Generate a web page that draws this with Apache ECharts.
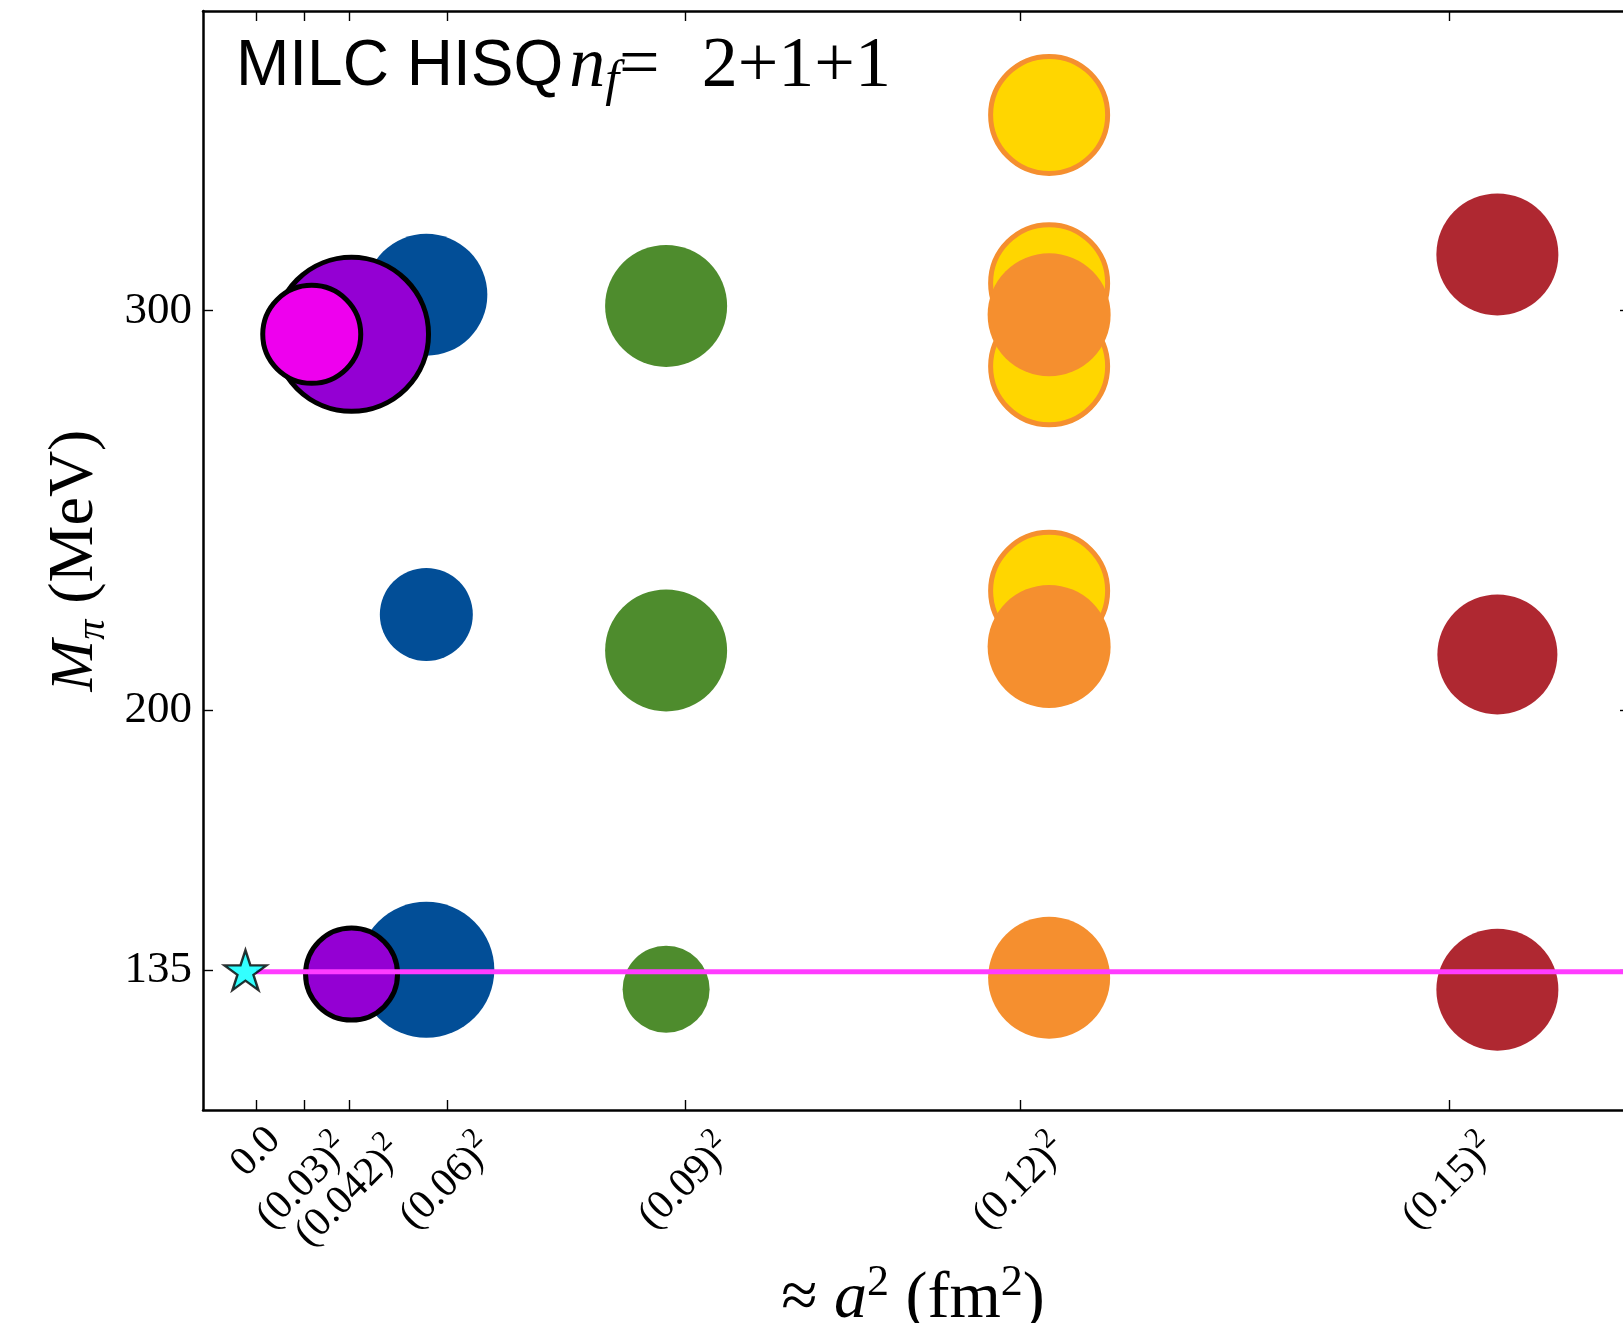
<!DOCTYPE html>
<html>
<head>
<meta charset="utf-8">
<script src="https://cdn.jsdelivr.net/npm/echarts@6/dist/echarts.min.js"></script>
<style>
  html, body { margin: 0; padding: 0; background: #ffffff; }
  #chart { width: 1623px; height: 1323px; }
</style>
</head>
<body>
<div id="chart"></div>
<script>
// ---- axis ticks ----
const tickA2 = [0, 0.0009, 0.001764, 0.0036, 0.0081, 0.0144, 0.0225];
const tickA2Labels = ['0.0', '(0.03)', '(0.042)', '(0.06)', '(0.09)', '(0.12)', '(0.15)'];
const tickMpi = [135, 200, 300];

// ---- ensembles: [a^2 (fm^2), M_pi (MeV), marker diameter] ----
const ens015 = [[0.0234, 314.1, 122], [0.0234, 214.0, 120], [0.0234, 130.1, 122]];
const ens012Heavy = [[0.01495, 349.0, 122], [0.01495, 306.9, 122], [0.01495, 286.1, 122], [0.01495, 229.9, 122]];
const ens012 = [[0.01495, 299.0, 123], [0.01495, 216.0, 123], [0.01495, 133.1, 122]];
const ens009 = [[0.00773, 301.2, 122], [0.00773, 215.0, 122], [0.00773, 130.2, 87]];
const ens006 = [[0.00321, 304.0, 122], [0.00321, 224.0, 93], [0.00321, 135.1, 136]];
const ens0042 = [[0.0018, 294.1, 159], [0.0018, 134.0, 97]];
const ens003 = [[0.00105, 294.1, 103]];
const physicalPoint = [[-0.0002, 135]];
const physicalMpi = 134.6;

// visible window of the axes (the right frame edge falls on the page edge)
const xMin = -0.001, xMax = 0.025768;
const yMin = 100, yMax = 375;

// five-pointed star outline
function starPath() {
  const pts = [];
  for (let k = 0; k < 10; k++) {
    const r = k % 2 === 0 ? 1 : 0.382;
    const ang = -Math.PI / 2 + k * Math.PI / 5;
    pts.push((r * Math.cos(ang)).toFixed(4) + ' ' + (r * Math.sin(ang)).toFixed(4));
  }
  return 'path://M' + pts.join('L') + 'Z';
}

// rotated tick labels: each label box is centred under its tick and hangs from a common top line
const serif = '"Liberation Serif", "Times New Roman", serif';
const tickFont = 41, supFont = 29;
const measureCtx = document.createElement('canvas').getContext('2d');
function textWidth(str, size) {
  measureCtx.font = size + 'px ' + serif;
  return measureCtx.measureText(str).width;
}
const labelLen = tickA2Labels.map((t, i) => textWidth(t, tickFont) + (i > 0 ? textWidth('2', supFont) : 0));
const tickRich = {
  t: { fontFamily: serif, fontSize: tickFont, lineHeight: 54, color: '#000' },
  s: { fontFamily: serif, fontSize: supFont, lineHeight: 30, verticalAlign: 'top', color: '#000' }
};
const shift = labelLen.map(L => Math.max(0, (L - labelLen[0]) * 0.3536 / 1.4142 * 1.4));
shift.forEach((s, i) => {
  tickRich['v' + i] = { fontSize: 1, height: 2 * s, lineHeight: 2 * s };
  tickRich['g' + i] = { fontSize: 1, width: 2 * s };
});
function tickLabel(value) {
  if (value < tickA2[0]) return '';   // frame corner placeholder
  let i = 0, best = Infinity;
  tickA2.forEach((v, k) => { const d = Math.abs(v - value); if (d < best) { best = d; i = k; } });
  if (i === 0) return '{t|' + tickA2Labels[0] + '}';
  return '{v' + i + '| }\n{t|' + tickA2Labels[i] + '}{s|2}{g' + i + '| }';
}
// the frame corner entry keeps the first real tick from being treated as the axis end
const bottomTicks = [xMin].concat(tickA2);

const spine = { show: true, onZero: false, lineStyle: { color: '#000', width: 2.5 } };
const ticks = (vals, len) => ({ show: true, inside: true, length: len || 10, customValues: vals, lineStyle: { color: '#000', width: 1.4 } });

function bubbles(name, data, color, z, border) {
  const bw = border ? border.width : 0;
  return {
    name, type: 'scatter', data, z,
    symbol: 'circle',
    symbolSize: d => d[2] - bw,
    itemStyle: {
      color, opacity: 1,
      borderColor: border ? border.color : color,
      borderWidth: bw
    },
    emphasis: { disabled: true },
    clip: false
  };
}

const chart = echarts.init(document.getElementById('chart'), null, { renderer: 'canvas' });
chart.setOption({
  animation: false,
  backgroundColor: '#ffffff',
  title: {
    left: 231, top: 22,
    text: '{s|MILC HISQ}{m|\u200An}{f|f}{r|=\u2002\u200A2+1+1}',
    textStyle: {
      fontWeight: 'normal',
      rich: {
        s: { fontFamily: '"Liberation Sans", Arial, sans-serif', fontWeight: 'normal', fontSize: 64, lineHeight: 80, color: '#000' },
        m: { fontFamily: serif, fontStyle: 'italic', fontWeight: 'normal', fontSize: 72, lineHeight: 80, color: '#000' },
        f: { fontFamily: serif, fontStyle: 'italic', fontWeight: 'normal', fontSize: 50, lineHeight: 58, verticalAlign: 'bottom', color: '#000' },
        r: { fontFamily: serif, fontWeight: 'normal', fontSize: 72, lineHeight: 80, color: '#000' }
      }
    }
  },
  grid: { left: 203, top: 11, right: 0, height: 1099, containLabel: false, outerBoundsMode: 'none' },
  xAxis: [{
    type: 'value', position: 'bottom', min: xMin, max: xMax,
    axisLine: spine, axisTick: ticks(bottomTicks), splitLine: { show: false },
    axisLabel: {
      customValues: bottomTicks, rotate: 45, margin: 42,
      showMinLabel: false, showMaxLabel: true,
      align: 'center', verticalAlign: 'middle',
      formatter: tickLabel, rich: tickRich
    },
    name: '{o|\u2248}{i| a}{p|2}{r| (fm}{p|2}{r|)}',
    nameLocation: 'middle', nameGap: 178,
    nameTextStyle: {
      align: 'center', verticalAlign: 'middle',
      rich: {
        o: { fontFamily: serif, fontSize: 66, lineHeight: 76, color: '#000' },
        i: { fontFamily: serif, fontStyle: 'italic', fontSize: 66, lineHeight: 76, color: '#000' },
        p: { fontFamily: serif, fontSize: 44, lineHeight: 76, verticalAlign: 'top', color: '#000' },
        r: { fontFamily: serif, fontSize: 66, lineHeight: 76, color: '#000' }
      }
    }
  }, {
    type: 'value', position: 'top', min: xMin, max: xMax,
    axisLine: spine, axisTick: ticks(tickA2), axisLabel: { show: false }, splitLine: { show: false }
  }],
  yAxis: [{
    type: 'value', position: 'left', min: yMin, max: yMax,
    axisLine: spine, axisTick: ticks(tickMpi), splitLine: { show: false },
    axisLabel: {
      customValues: tickMpi, margin: 11,
      fontFamily: serif, fontSize: 45, color: '#000'
    },
    name: '{m|M}{p|\u03c0}{r| (MeV)}',
    nameLocation: 'middle', nameRotate: 90, nameGap: 124,
    nameTextStyle: {
      align: 'center', verticalAlign: 'middle',
      rich: {
        m: { fontFamily: serif, fontStyle: 'italic', fontSize: 62, lineHeight: 76, color: '#000' },
        p: { fontFamily: serif, fontStyle: 'italic', fontSize: 40, lineHeight: 60, verticalAlign: 'bottom', color: '#000' },
        r: { fontFamily: serif, fontSize: 64, lineHeight: 76, color: '#000' }
      }
    }
  }, {
    type: 'value', position: 'right', min: yMin, max: yMax,
    axisLine: { show: false, onZero: false }, axisTick: ticks(tickMpi, 3), axisLabel: { show: false }, splitLine: { show: false }
  }],
  series: [
    bubbles('a≈0.15 fm', ens015, '#AF2831', 2),
    bubbles('a≈0.12 fm (heavy)', ens012Heavy, '#FFD600', 3, { color: '#F58F2F', width: 5 }),
    bubbles('a≈0.12 fm', ens012, '#F58F2F', 4),
    bubbles('a≈0.09 fm', ens009, '#4E8C2D', 5),
    bubbles('a≈0.06 fm', ens006, '#024E97', 6),
    bubbles('a≈0.042 fm', ens0042, '#9400D3', 7, { color: '#000', width: 5 }),
    bubbles('a≈0.03 fm', ens003, '#EE00EE', 8, { color: '#000', width: 5 }),
    {
      name: 'physical M_pi', type: 'line', z: 9,
      data: [[0, physicalMpi], [xMax, physicalMpi]],
      symbol: 'none', lineStyle: { color: '#FF3CFF', width: 5 },
      emphasis: { disabled: true }
    },
    {
      name: 'physical point', type: 'scatter', z: 10,
      data: physicalPoint,
      symbol: starPath(), symbolSize: [42, 40],
      itemStyle: { color: '#00FFFF', borderColor: '#000', borderWidth: 2.4 },
      emphasis: { disabled: true }
    }
  ]
});
</script>
</body>
</html>
